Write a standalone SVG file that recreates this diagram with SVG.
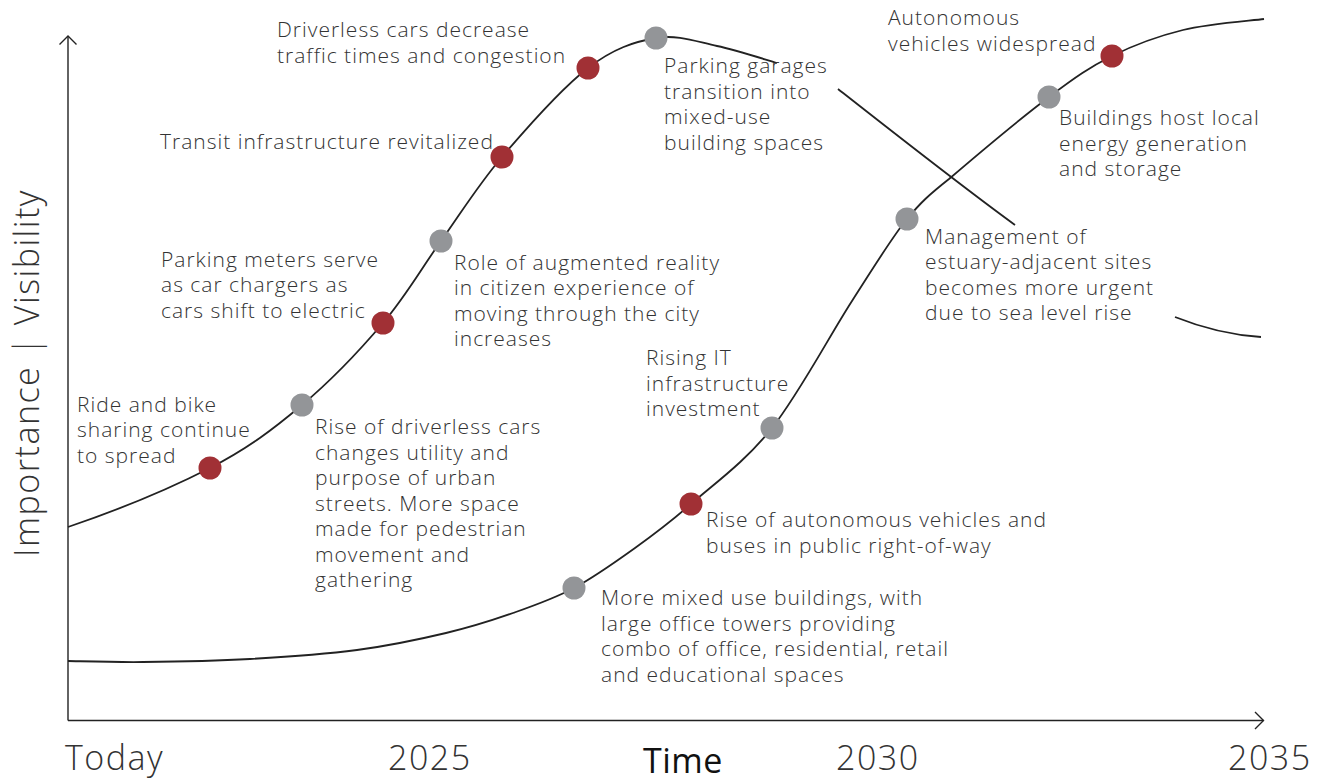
<svg xmlns="http://www.w3.org/2000/svg" width="1322" height="779" viewBox="0 0 1322 779">
<style>
.lbl{font-family:"Open Sans","Liberation Sans",sans-serif;font-weight:300;font-size:21px;letter-spacing:1px;fill:#333;}
.ax{font-family:"Open Sans","Liberation Sans",sans-serif;font-weight:300;font-size:34px;letter-spacing:1.5px;fill:#333;}
.curve{fill:none;stroke:#222;stroke-width:1.8;}
.axis{fill:none;stroke:#222;stroke-width:1.4;}
.red{fill:#a13035;}
.gray{fill:#939598;}
</style>
<defs>
<marker id="chev" markerUnits="userSpaceOnUse" markerWidth="20" markerHeight="20" refX="10" refY="10" orient="auto" viewBox="0 0 20 20">
<path d="M1.5,1.5 L10,10 L1.5,18.5" fill="none" stroke="#222" stroke-width="1.4"/>
</marker>
</defs>
<rect width="1322" height="779" fill="#fff"/>
<g id="axes">
<path class="axis" d="M68,720.5 L68,36" marker-end="url(#chev)"/>
<path class="axis" d="M68,720.5 L1263.5,720.5" marker-end="url(#chev)"/>
<text class="ax" x="65" y="770">Today</text>
<text class="ax" x="388" y="770">2025</text>
<text class="ax" x="643" y="773" style="fill:#111;font-weight:400;letter-spacing:0.5px">Time</text>
<text class="ax" x="836" y="770">2030</text>
<text class="ax" x="1228" y="770">2035</text>
<text class="ax" transform="translate(39,557) rotate(-90)" x="0" y="0">Importance | Visibility</text>
</g>
<g id="connectors">
<path class="curve" d="M68,527 C115,511 171,488 210,468 C249,447.7 273.2,429.2 302,405 C330.8,380.8 359.8,350.3 383,323 C406.2,295.7 421.2,268.7 441,241 C460.8,213.3 477.5,185.8 502,157 C526.5,128.2 562.3,87.8 588,68 C613.7,48.2 634.5,41.7 656,38 C677.5,34.3 696.8,41.8 717,46 C737.2,50.2 767,60.2 777,63"/>
<path class="curve" d="M838,89 C880,122 960,185 1015,225"/>
<path class="curve" d="M1175,317 C1200,327 1230,335 1261,337"/>
<path class="curve" d="M68,661 C80.5,661.2 112.7,662.3 143,662 C173.3,661.7 214.3,661 250,659 C285.7,657 324.3,654.3 357,650 C389.7,645.7 420,639.2 446,633 C472,626.8 491.7,620.5 513,613 C534.3,605.5 553.7,598.8 574,588 C594.3,577.2 615.5,562 635,548 C654.5,534 668.2,524 691,504 C713.8,484 745.2,461.8 772,428 C798.8,394.2 829.5,335.8 852,301 C874.5,266.2 892,237 907,219 C921,202 930,194 949,179 C972.7,158.7 1021.8,117.5 1049,97 C1076.2,76.5 1089.7,67.2 1112,56 C1134.3,44.8 1157.7,36.2 1183,30 C1208.3,23.8 1250.5,20.8 1264,19"/>
</g>
<g id="n-ride">
<circle class="red" cx="210" cy="468" r="11.5"/>
<text class="lbl" x="77" y="411.5">Ride and bike</text>
<text class="lbl" x="77" y="437">sharing continue</text>
<text class="lbl" x="77" y="462.5">to spread</text>
</g>
<g id="n-driverless-rise">
<circle class="gray" cx="302" cy="405" r="11.5"/>
<text class="lbl" x="315" y="434">Rise of driverless cars</text>
<text class="lbl" x="315" y="459.5">changes utility and</text>
<text class="lbl" x="315" y="485">purpose of urban</text>
<text class="lbl" x="315" y="510.5">streets. More space</text>
<text class="lbl" x="315" y="536">made for pedestrian</text>
<text class="lbl" x="315" y="561.5">movement and</text>
<text class="lbl" x="315" y="587">gathering</text>
</g>
<g id="n-meters">
<circle class="red" cx="383" cy="323" r="11.5"/>
<text class="lbl" x="161" y="266.7">Parking meters serve</text>
<text class="lbl" x="161" y="292.3">as car chargers as</text>
<text class="lbl" x="161" y="318">cars shift to electric</text>
</g>
<g id="n-ar">
<circle class="gray" cx="441" cy="241" r="11.5"/>
<text class="lbl" x="454" y="269.5">Role of augmented reality</text>
<text class="lbl" x="454" y="295">in citizen experience of</text>
<text class="lbl" x="454" y="320.5">moving through the city</text>
<text class="lbl" x="454" y="346">increases</text>
</g>
<g id="n-transit">
<circle class="red" cx="502" cy="157" r="11.5"/>
<text class="lbl" x="160" y="149">Transit infrastructure revitalized</text>
</g>
<g id="n-traffic">
<circle class="red" cx="588" cy="68" r="11.5"/>
<text class="lbl" x="277" y="37">Driverless cars decrease</text>
<text class="lbl" x="277" y="62.5">traffic times and congestion</text>
</g>
<g id="n-garages">
<circle class="gray" cx="656" cy="38" r="11.5"/>
<text class="lbl" x="664" y="73">Parking garages</text>
<text class="lbl" x="664" y="98.5">transition into</text>
<text class="lbl" x="664" y="124">mixed-use</text>
<text class="lbl" x="664" y="149.5">building spaces</text>
</g>
<g id="n-estuary">
<circle class="gray" cx="907" cy="219" r="11.5"/>
<text class="lbl" x="925" y="243.5">Management of</text>
<text class="lbl" x="925" y="269">estuary-adjacent sites</text>
<text class="lbl" x="925" y="294.5">becomes more urgent</text>
<text class="lbl" x="925" y="320">due to sea level rise</text>
</g>
<g id="n-mixed">
<circle class="gray" cx="574" cy="588" r="11.5"/>
<text class="lbl" x="601" y="605">More mixed use buildings, with</text>
<text class="lbl" x="601" y="630.5">large office towers providing</text>
<text class="lbl" x="601" y="656">combo of office, residential, retail</text>
<text class="lbl" x="601" y="681.5">and educational spaces</text>
</g>
<g id="n-av-rise">
<circle class="red" cx="691" cy="504" r="11.5"/>
<text class="lbl" x="706" y="527">Rise of autonomous vehicles and</text>
<text class="lbl" x="706" y="552.5">buses in public right-of-way</text>
</g>
<g id="n-it">
<circle class="gray" cx="772" cy="428" r="11.5"/>
<text class="lbl" x="646" y="365">Rising IT</text>
<text class="lbl" x="646" y="390.5">infrastructure</text>
<text class="lbl" x="646" y="416">investment</text>
</g>
<g id="n-energy">
<circle class="gray" cx="1049" cy="97" r="11.5"/>
<text class="lbl" x="1059" y="125">Buildings host local</text>
<text class="lbl" x="1059" y="150.7">energy generation</text>
<text class="lbl" x="1059" y="176">and storage</text>
</g>
<g id="n-av-wide">
<circle class="red" cx="1112" cy="56" r="11.5"/>
<text class="lbl" x="888" y="25">Autonomous</text>
<text class="lbl" x="888" y="50.5">vehicles widespread</text>
</g>
</svg>
